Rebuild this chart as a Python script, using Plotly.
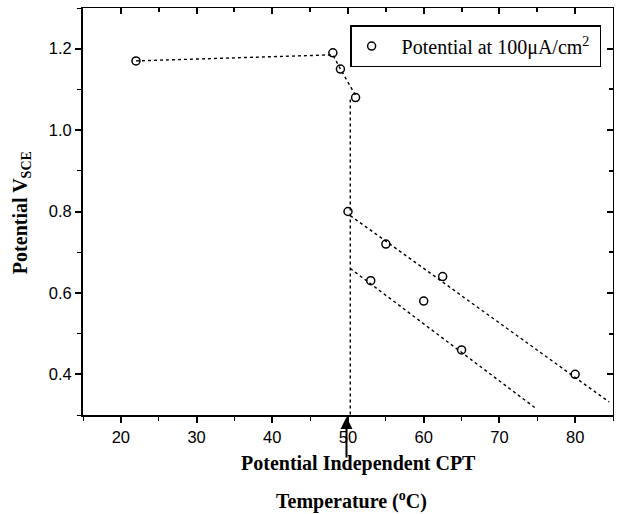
import plotly.graph_objects as go

# Data points (Temperature °C, Potential V_SCE)
temp = [22, 48, 49, 51, 50, 55, 62.5, 53, 60, 65, 80]
potential = [1.17, 1.19, 1.15, 1.08, 0.80, 0.72, 0.64, 0.63, 0.58, 0.46, 0.40]

# Guide lines (dotted)
plateau_x = [22, 48, 49, 51]
plateau_y = [1.17, 1.185, 1.15, 1.085]
vert_x = [50.3, 50.3]
vert_y = [1.075, 0.30]
upper_x = [50.3, 84.5]
upper_y = [0.79, 0.332]
lower_x = [50.3, 74.9]
lower_y = [0.66, 0.315]

x_range = [15, 85]
y_range = [0.3, 1.3]
x_ticks = [20, 30, 40, 50, 60, 70, 80]
y_ticks = [0.4, 0.6, 0.8, 1.0, 1.2]

fig = go.Figure()
line_style = dict(color="black", width=1.4, dash="dot")
for lx, ly in [(plateau_x, plateau_y), (vert_x, vert_y), (upper_x, upper_y), (lower_x, lower_y)]:
    fig.add_trace(go.Scatter(x=lx, y=ly, mode="lines", line=line_style,
                             showlegend=False, hoverinfo="skip"))

fig.add_trace(go.Scatter(
    x=temp, y=potential, mode="markers", name="  Potential at 100μA/cm<sup>2</sup> ",
    marker=dict(symbol="circle-open", size=8, color="black", line=dict(width=1.5, color="black")),
))

# invisible trace for mirrored axes
fig.add_trace(go.Scatter(x=x_range, y=y_range, xaxis="x2", yaxis="y2", mode="markers",
                         marker=dict(opacity=0), showlegend=False, hoverinfo="skip"))

tickfont = dict(family="Liberation Sans, Arial", size=16.5, color="black")
fig.update_layout(
    width=619, height=514,
    margin=dict(l=83, r=6, t=8, b=99),
    paper_bgcolor="white", plot_bgcolor="white",
    showlegend=True,
    legend=dict(x=0.504, y=0.958, xanchor="left", yanchor="top",
                bordercolor="black", borderwidth=1.5, bgcolor="white",
                font=dict(family="Liberation Serif, Times New Roman", size=20, color="black"),
                itemwidth=30),
    xaxis=dict(range=x_range, tickvals=x_ticks, ticks="outside", ticklen=6, tickwidth=1.5,
               tickcolor="black", showline=True, linecolor="black", linewidth=2,
               showgrid=False, zeroline=False, tickfont=tickfont,
               minor=dict(dtick=5, tick0=0, ticks="outside", ticklen=4, tickcolor="black", tickwidth=1.2)),
    yaxis=dict(range=y_range, tickvals=y_ticks, tickformat=".1f", ticks="outside", ticklen=6,
               tickwidth=1.5, tickcolor="black", showline=True, linecolor="black", linewidth=2,
               showgrid=False, zeroline=False, tickfont=tickfont,
               minor=dict(dtick=0.1, tick0=0, ticks="outside", ticklen=4, tickcolor="black", tickwidth=1.2)),
    xaxis2=dict(range=x_range, overlaying="x", side="top", tickvals=x_ticks, ticks="inside",
                ticklen=6, tickwidth=1.5, tickcolor="black", showticklabels=False,
                showline=True, linecolor="black", linewidth=1.2, showgrid=False, zeroline=False,
                minor=dict(dtick=5, tick0=0, ticks="inside", ticklen=4, tickcolor="black")),
    yaxis2=dict(range=y_range, overlaying="y", side="right", tickvals=y_ticks, ticks="inside",
                ticklen=6, tickwidth=1.5, tickcolor="black", showticklabels=False,
                showline=True, linecolor="black", linewidth=1.2, showgrid=False, zeroline=False,
                minor=dict(dtick=0.1, tick0=0, ticks="inside", ticklen=4, tickcolor="black")),
)

title_font = dict(family="Liberation Serif, Times New Roman", size=20, color="black")
fig.add_annotation(text="<b>Potential V<sub>SCE</sub></b>", xref="paper", yref="paper",
                   x=0, y=0.496, xshift=-62, xanchor="center", yanchor="middle", textangle=-90,
                   showarrow=False, font=title_font)
fig.add_annotation(text="<b>Potential Independent CPT</b>", xref="paper", yref="paper",
                   x=0.519, y=0, yshift=-48, xanchor="center", yanchor="middle",
                   showarrow=False, font=title_font)
fig.add_annotation(text="<b>Temperature (<sup>o</sup>C)</b>", xref="paper", yref="paper",
                   x=0.507, y=0, yshift=-85, xanchor="center", yanchor="middle",
                   showarrow=False, font=title_font)
# Arrow pointing at CPT = 50 °C
fig.add_annotation(x=49.8, y=0.3, xref="x", yref="y", ax=0, ay=44, axref="pixel", ayref="pixel",
                   text="", showarrow=True, arrowhead=2, arrowsize=1.2, arrowwidth=2,
                   arrowcolor="black", standoff=2)

fig.write_html("out.html")
